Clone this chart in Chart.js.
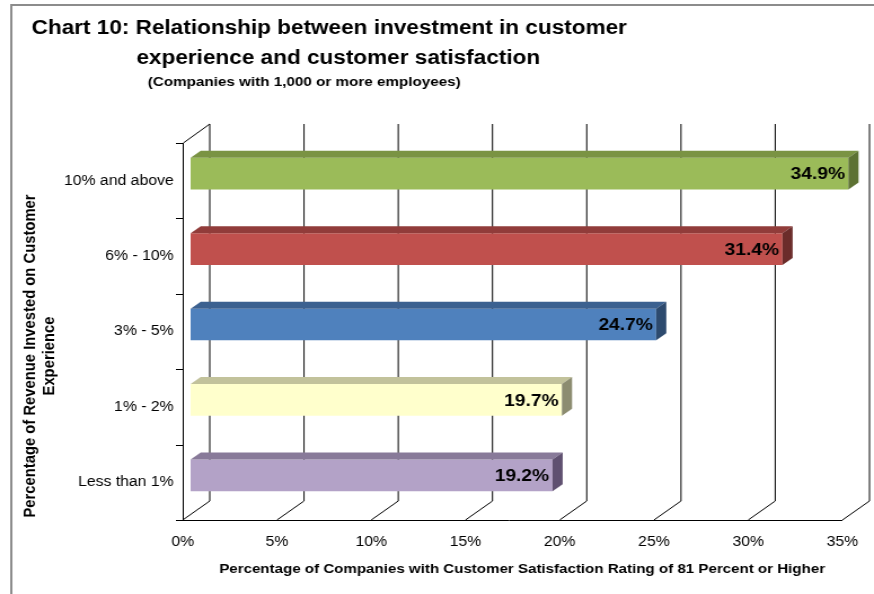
<!DOCTYPE html>
<html>
<head>
<meta charset="utf-8">
<script src="https://cdn.jsdelivr.net/npm/chart.js@4"></script>
<style>
  body { margin: 0; background: #fff; }
  /* the drawing is made narrower and stretched to the page width */
  #chart { display: block; width: 874px !important; height: 594px !important; }
</style>
</head>
<body>
<canvas id="chart" width="775" height="594"></canvas>
<script>
const categories = ['10% and above', '6% - 10%', '3% - 5%', '1% - 2%', 'Less than 1%'];
const satisfaction = [34.9, 31.4, 24.7, 19.7, 19.2];
const xTicks = [0, 5, 10, 15, 20, 25, 30, 35];

const faceColors = ['#9BBB59', '#C0504D', '#4F81BD', '#FFFFCC', '#B3A2C7'];
const topColors = ['#7A9343', '#913C3A', '#3C6190', '#C2C29B', '#887A99'];
const sideColors = ['#5D7233', '#6B2C2A', '#2D4A6E', '#8C8C70', '#5F5070'];

const FONT = '"Liberation Sans", Arial, sans-serif';
// depth of the box (back wall offset) and of the bars inside it
const WALL_DX = 24, WALL_DY = -19;
const BAR_DX = 7, BAR_DY = -7;
const BAR_DEPTH_X = 9, BAR_DEPTH_Y = -7;

const box3d = {
    id: 'box3d',
    beforeDraw(chart) {
        const ctx = chart.ctx;
        ctx.save();
        ctx.fillStyle = '#fff';
        ctx.fillRect(0, 0, chart.width, chart.height);
        // outer frame (top and left edges)
        ctx.strokeStyle = '#8c8c8c';
        ctx.lineWidth = 2;
        ctx.beginPath();
        ctx.moveTo(chart.width, 5);
        ctx.lineTo(10, 5);
        ctx.lineTo(10, chart.height);
        ctx.stroke();

        // titles
        ctx.fillStyle = '#000';
        ctx.textAlign = 'left';
        ctx.textBaseline = 'alphabetic';
        ctx.font = 'bold 20px ' + FONT;
        ctx.fillText('Chart 10: Relationship between investment in customer', 28, 34);
        ctx.fillText('experience and customer satisfaction', 121, 64);
        ctx.font = 'bold 13.5px ' + FONT;
        ctx.fillText('(Companies with 1,000 or more employees)', 131, 86);

        // axis titles
        ctx.textAlign = 'center';
        ctx.font = 'bold 13.4px ' + FONT;
        ctx.fillText('Percentage of Companies with Customer Satisfaction Rating of 81 Percent or Higher', 463, 573);
        ctx.save();
        ctx.translate(0, 356);
        ctx.rotate(-Math.PI / 2);
        ctx.textBaseline = 'middle';
        ctx.font = 'bold 14.8px ' + FONT;
        ctx.fillText('Percentage of Revenue Invested on Customer', 0, 26.5);
        ctx.fillText('Experience', 0, 44);
        ctx.restore();
        ctx.restore();
    },
    beforeDatasetsDraw(chart) {
        const ctx = chart.ctx;
        const xs = chart.scales.x, ys = chart.scales.y;
        const {top, bottom, left} = chart.chartArea;
        ctx.save();
        ctx.strokeStyle = '#000';
        ctx.lineWidth = 1;
        ctx.beginPath();
        // back wall gridlines and floor diagonals
        xTicks.forEach(v => {
            const px = xs.getPixelForValue(v);
            ctx.moveTo(px + WALL_DX, top + WALL_DY);
            ctx.lineTo(px + WALL_DX, bottom + WALL_DY);
            ctx.moveTo(px, bottom);
            ctx.lineTo(px + WALL_DX, bottom + WALL_DY);
        });
        // front floor edge
        ctx.moveTo(xs.getPixelForValue(xTicks[xTicks.length - 1]), bottom + 0.5);
        ctx.lineTo(left - 6, bottom + 0.5);
        // left wall front edge with category ticks
        ctx.moveTo(left + 0.5, bottom);
        ctx.lineTo(left + 0.5, top);
        ctx.lineTo(left + WALL_DX, top + WALL_DY);
        const band = (ys.getPixelForValue(1) - ys.getPixelForValue(0));
        for (let i = 0; i <= categories.length; i++) {
            const py = Math.round(ys.getPixelForValue(0) - band / 2 + i * band) + 0.5;
            ctx.moveTo(left - 6, py);
            ctx.lineTo(left, py);
        }
        ctx.stroke();
        ctx.restore();

        // bar fronts are drawn by the chart, pushed into the box
        ctx.save();
        ctx.translate(BAR_DX, BAR_DY);
    },
    afterDatasetsDraw(chart) {
        const ctx = chart.ctx;
        ctx.restore();
        const meta = chart.getDatasetMeta(0);
        ctx.save();
        meta.data.forEach((bar, i) => {
            const l = bar.base + BAR_DX, r = bar.x + BAR_DX;
            const t = bar.y - bar.height / 2 + BAR_DY, b = bar.y + bar.height / 2 + BAR_DY;
            ctx.fillStyle = topColors[i];
            ctx.beginPath();
            ctx.moveTo(l, t);
            ctx.lineTo(r, t);
            ctx.lineTo(r + BAR_DEPTH_X, t + BAR_DEPTH_Y);
            ctx.lineTo(l + BAR_DEPTH_X, t + BAR_DEPTH_Y);
            ctx.closePath();
            ctx.fill();
            ctx.fillStyle = sideColors[i];
            ctx.beginPath();
            ctx.moveTo(r, t);
            ctx.lineTo(r + BAR_DEPTH_X, t + BAR_DEPTH_Y);
            ctx.lineTo(r + BAR_DEPTH_X, b + BAR_DEPTH_Y);
            ctx.lineTo(r, b);
            ctx.closePath();
            ctx.fill();

            ctx.fillStyle = '#000';
            ctx.font = 'bold 17px ' + FONT;
            ctx.textAlign = 'right';
            ctx.textBaseline = 'middle';
            ctx.fillText(satisfaction[i].toFixed(1) + '%', r - 3, (t + b) / 2 + 1);
        });
        ctx.restore();
    }
};

new Chart(document.getElementById('chart'), {
    type: 'bar',
    data: {
        labels: categories,
        datasets: [{
            data: satisfaction,
            backgroundColor: faceColors,
            borderWidth: 0,
            categoryPercentage: 1,
            barPercentage: 0.42,
            clip: false
        }]
    },
    options: {
        indexAxis: 'y',
        responsive: false,
        animation: false,
        layout: { padding: { left: 0, right: 26, top: 143, bottom: 0 } },
        plugins: {
            legend: { display: false },
            tooltip: { enabled: false }
        },
        scales: {
            x: {
                min: 0,
                max: 35,
                afterFit: s => { s.height = 74; },
                afterBuildTicks: s => { s.ticks = xTicks.map(v => ({ value: v })); },
                grid: { display: false, drawTicks: false },
                border: { display: false },
                ticks: {
                    padding: 14,
                    color: '#000',
                    font: { family: FONT, size: 14 },
                    maxRotation: 0,
                    callback: v => v + '%'
                }
            },
            y: {
                afterFit: s => { s.width = 162; },
                grid: { display: false, drawTicks: false },
                border: { display: false },
                ticks: {
                    padding: 8,
                    color: '#000',
                    font: { family: FONT, size: 14 }
                }
            }
        }
    },
    plugins: [box3d]
});
</script>
</body>
</html>
